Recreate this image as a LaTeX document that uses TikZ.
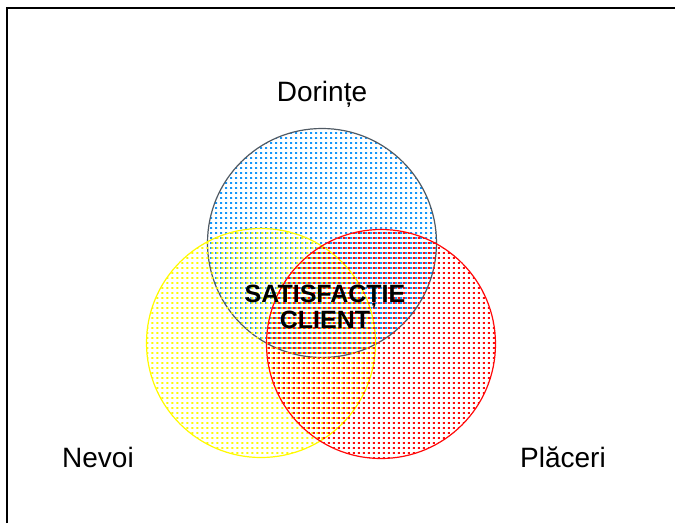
\documentclass[tikz,border=0pt]{standalone}
\usepackage{fontspec}
\setmainfont{Liberation Sans}
\usetikzlibrary{patterns}
\definecolor{dotblue}{RGB}{20,150,250}
\definecolor{dotyellow}{RGB}{255,250,0}
\definecolor{dotred}{RGB}{255,10,10}
\definecolor{rimgray}{RGB}{80,90,100}
% dash-like dot grids, offset so overlapping sets interleave
\pgfdeclarepatternformonly{sqdotsA}{\pgfqpoint{0pt}{0pt}}{\pgfqpoint{5pt}{5pt}}{\pgfqpoint{5pt}{5pt}}%
  {\pgfpathrectangle{\pgfqpoint{0pt}{0pt}}{\pgfqpoint{2.4pt}{2.2pt}}\pgfusepath{fill}}
\pgfdeclarepatternformonly{sqdotsB}{\pgfqpoint{0pt}{0pt}}{\pgfqpoint{5pt}{5pt}}{\pgfqpoint{5pt}{5pt}}%
  {\pgfpathrectangle{\pgfqpoint{1.7pt}{0pt}}{\pgfqpoint{2.4pt}{2.2pt}}\pgfusepath{fill}}
\pgfdeclarepatternformonly{sqdotsC}{\pgfqpoint{0pt}{0pt}}{\pgfqpoint{5pt}{5pt}}{\pgfqpoint{5pt}{5pt}}%
  {\pgfpathrectangle{\pgfqpoint{3.3pt}{0pt}}{\pgfqpoint{2.4pt}{2.2pt}}\pgfusepath{fill}}
\tikzset{
  label/.style={font=\fontsize{28}{30}\selectfont, inner sep=0pt},
  core/.style={font=\fontsize{25}{30}\selectfont\bfseries, align=center, inner sep=0pt},
  set/.style={circle, minimum size=229pt, inner sep=0pt, line width=1.2pt},
}
\begin{document}
\begin{tikzpicture}[x=1pt,y=-1pt]
\useasboundingbox (0,0) rectangle (675,523);
% frame
\draw[line width=1.8pt] (7,523) -- (7,8) -- (675,8);
% the three sets, dotted fills
\node[set, draw=rimgray, pattern=sqdotsA, pattern color=dotblue] (wish) at (322,243) {};
\node[set, draw=dotyellow, pattern=sqdotsB, pattern color=dotyellow] (need) at (261,343) {};
\node[set, draw=dotred, pattern=sqdotsC, pattern color=dotred] (joy) at (381,344) {};
% labels
\node[label] (lwish) at (322,94) {Dorințe};
\node[label] (lneed) at (98,457) {Nevoi};
\node[label] (ljoy) at (563,457) {Plăceri};
\node[core] (center) at (325,307) {SATISFACȚIE\\[-4pt]CLIENT};
\end{tikzpicture}
\end{document}
